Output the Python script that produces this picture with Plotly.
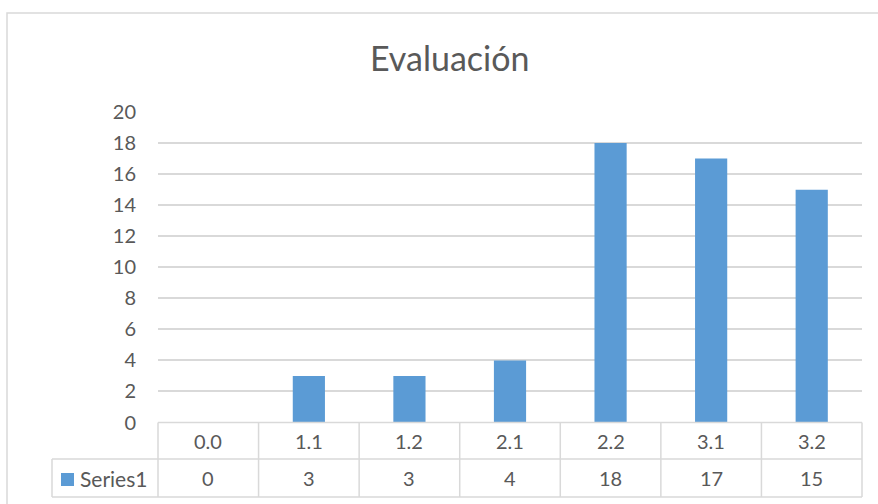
import plotly.graph_objects as go

# Chart data
categories = ["0.0", "1.1", "1.2", "2.1", "2.2", "3.1", "3.2"]
values = [0, 3, 3, 4, 18, 17, 15]
series_name = "Series1"
title_text = "Evaluación"

W, H = 878, 504
FONT = "Lato"
TEXT = "#595959"
LINE = "#d9d9d9"
BAR = "#5b9bd5"

# plot area in pixels
PX0, PX1 = 158, 862
PY_TOP, PY_ZERO = 112, 422.5
ROW1, ROW2 = 459, 497
LEG_X = 52


def px(x):
    return x / W


def py(y):
    return 1 - y / H


fig = go.Figure(
    go.Bar(
        x=categories,
        y=values,
        marker=dict(color=BAR, line=dict(width=0)),
        name=series_name,
        showlegend=False,
    )
)

shapes = []
annotations = []

# outer chart border
shapes.append(dict(type="rect", xref="paper", yref="paper",
                   x0=px(7), x1=px(W + 20), y0=py(H + 20), y1=py(13),
                   line=dict(color=LINE, width=1.5), layer="below"))

# data table grid
def hline(x0, x1, y):
    shapes.append(dict(type="line", xref="paper", yref="paper",
                       x0=px(x0), x1=px(x1), y0=py(y), y1=py(y),
                       line=dict(color=LINE, width=1.5)))


def vline(x, y0, y1):
    shapes.append(dict(type="line", xref="paper", yref="paper",
                       x0=px(x), x1=px(x), y0=py(y0), y1=py(y1),
                       line=dict(color=LINE, width=1.5)))


n = len(categories)
cw = (PX1 - PX0) / n
hline(PX0, PX1, PY_ZERO)
hline(LEG_X, PX1, ROW1)
hline(LEG_X, PX1, ROW2)
for k in range(n + 1):
    vline(PX0 + k * cw, PY_ZERO, ROW2)
vline(LEG_X, ROW1, ROW2)

# table text
for k, (c, v) in enumerate(zip(categories, values)):
    cx = PX0 + (k + 0.5) * cw
    annotations.append(dict(xref="paper", yref="paper", x=px(cx), y=py((PY_ZERO + ROW1) / 2),
                            text=c, showarrow=False, xanchor="center", yanchor="middle",
                            font=dict(family=FONT, size=20, color=TEXT)))
    annotations.append(dict(xref="paper", yref="paper", x=px(cx), y=py((ROW1 + ROW2) / 2),
                            text=str(v), showarrow=False, xanchor="center", yanchor="middle",
                            font=dict(family=FONT, size=20, color=TEXT)))

# legend key in table
shapes.append(dict(type="rect", xref="paper", yref="paper",
                   x0=px(61), x1=px(74), y0=py(486), y1=py(473),
                   fillcolor=BAR, line=dict(width=0)))
annotations.append(dict(xref="paper", yref="paper", x=px(78), y=py((ROW1 + ROW2) / 2),
                        text=series_name, showarrow=False, xanchor="left", yanchor="middle",
                        font=dict(family=FONT, size=21, color=TEXT)))

# title
annotations.append(dict(xref="paper", yref="paper", x=px(449), y=py(57),
                        text=title_text, showarrow=False, xanchor="center", yanchor="middle",
                        font=dict(family=FONT, size=34, color=TEXT)))

fig.update_layout(
    width=W, height=H,
    margin=dict(l=0, r=0, t=0, b=0, pad=0, autoexpand=False),
    paper_bgcolor="white",
    plot_bgcolor="white",
    bargap=0.68,
    shapes=shapes,
    annotations=annotations,
    xaxis=dict(domain=[px(PX0), px(PX1)], showticklabels=False, showgrid=False,
               zeroline=False, showline=False, fixedrange=True, automargin=False),
    yaxis=dict(domain=[py(PY_ZERO), py(PY_TOP)], range=[0, 20], dtick=2,
               showgrid=True, gridcolor=LINE, gridwidth=1.5,
               zeroline=False, showline=False, automargin=False,
               ticks="", ticklabelstandoff=21,
               tickfont=dict(family=FONT, size=20, color=TEXT)),
)

fig.write_html("out.html")
